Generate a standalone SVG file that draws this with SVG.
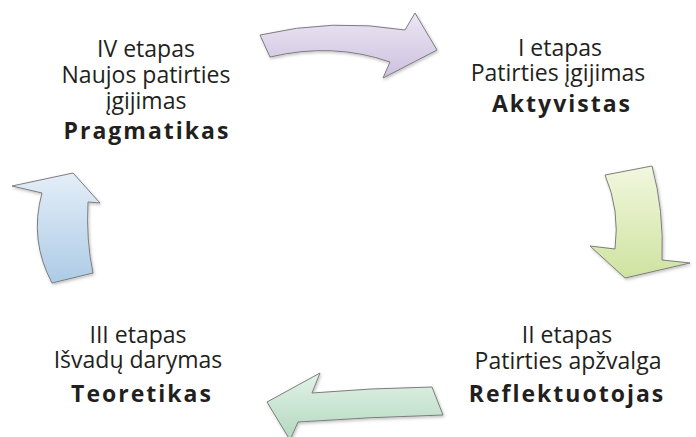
<svg xmlns="http://www.w3.org/2000/svg" width="696" height="437" viewBox="0 0 696 437">
<defs>
<linearGradient id="gP" x1="0" y1="0" x2="0" y2="1"><stop offset="0" stop-color="#ece6f4"/><stop offset="1" stop-color="#cdc1df"/></linearGradient>
<linearGradient id="gY" x1="0" y1="0" x2="0" y2="1"><stop offset="0" stop-color="#f1f7de"/><stop offset="1" stop-color="#cfe3a0"/></linearGradient>
<linearGradient id="gG" x1="0" y1="0" x2="0" y2="1"><stop offset="0" stop-color="#e2f2e8"/><stop offset="1" stop-color="#b2d8be"/></linearGradient>
<linearGradient id="gB" x1="0" y1="0" x2="0" y2="1"><stop offset="0" stop-color="#e4eef8"/><stop offset="1" stop-color="#adcbe6"/></linearGradient>
<filter id="sh" x="-20%" y="-20%" width="140%" height="140%"><feDropShadow dx="1" dy="1.5" stdDeviation="1.5" flood-color="#000" flood-opacity="0.25"/></filter>
</defs>
<style>
.arr{stroke:#7d7d7d;stroke-width:1;stroke-linejoin:miter;filter:url(#sh)}
text{font-family:"Open Sans","Noto Sans","Liberation Sans",sans-serif;fill:#231f20;text-anchor:middle;font-size:23px}
.b{font-weight:bold;font-size:23px;letter-spacing:2px}
</style>
<g id="connectors">
<path class="arr" fill="url(#gP)" d="M260,35 Q333,18 405,30 L415,13 L437,50 L383,78 L390,62 Q333,42 270,57 Z"/>
<path class="arr" fill="url(#gY)" d="M605,175 L652,166 Q664,210 662,260 L690,263 L625,278 L590,246 L615,249 Q620,210 605,175 Z"/>
<path class="arr" fill="url(#gG)" d="M432,387 Q370,388 312,393 L320,373 L267,402 L290,440 L298,422 Q370,417 443,415 Z"/>
<path class="arr" fill="url(#gB)" d="M73,173 L12,186 L42,193 Q29,240 52,283 L93,273 Q86,240 88,202 L100,203 Z"/>
</g>
<g id="stage4">
<text x="146" y="57">IV etapas</text>
<text x="146" y="83">Naujos patirties</text>
<text x="146" y="109">įgijimas</text>
<text class="b" x="147" y="139">Pragmatikas</text>
</g>
<g id="stage1">
<text x="560" y="56">I etapas</text>
<text x="558" y="81">Patirties įgijimas</text>
<text class="b" x="562" y="112">Aktyvistas</text>
</g>
<g id="stage2">
<text x="567" y="343">II etapas</text>
<text x="568" y="369">Patirties apžvalga</text>
<text class="b" x="567" y="402">Reflektuotojas</text>
</g>
<g id="stage3">
<text x="138" y="343">III etapas</text>
<text x="138" y="368">Išvadų darymas</text>
<text class="b" x="142" y="402">Teoretikas</text>
</g>
</svg>
